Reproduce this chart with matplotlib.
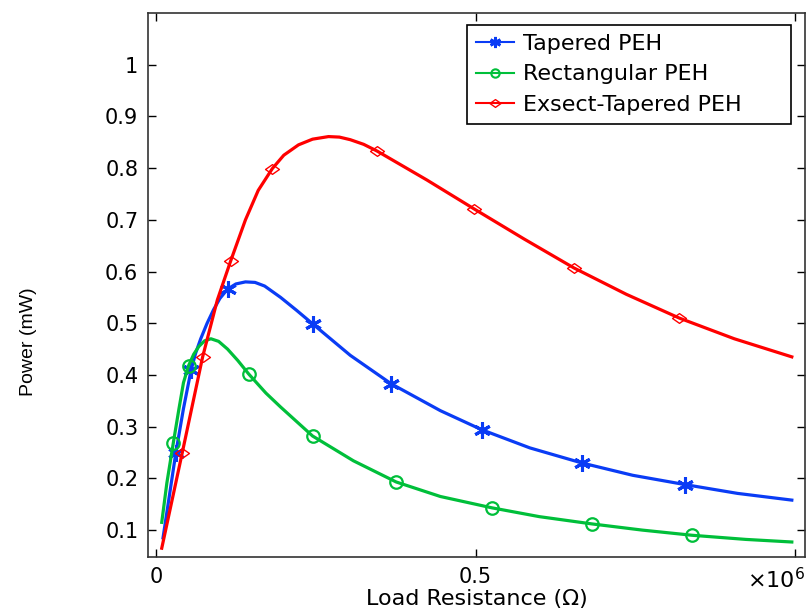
import matplotlib
matplotlib.use('Agg')
import matplotlib.pyplot as plt
from matplotlib.lines import Line2D
from matplotlib.path import Path

# Load resistance values are in units of 1e6 ohm, power in mW
tapered_x = [0.011, 0.031, 0.043, 0.055, 0.062, 0.070, 0.080, 0.090, 0.100, 0.112,
             0.125, 0.140, 0.155, 0.170, 0.195, 0.220, 0.245, 0.304, 0.368, 0.445,
             0.510, 0.585, 0.666, 0.746, 0.828, 0.910, 0.995]
tapered_y = [0.085, 0.249, 0.335, 0.410, 0.442, 0.470, 0.500, 0.526, 0.548, 0.566,
             0.576, 0.580, 0.579, 0.572, 0.550, 0.525, 0.499, 0.438, 0.383, 0.331,
             0.294, 0.259, 0.230, 0.206, 0.188, 0.171, 0.158]
tapered_marks = [1, 3, 9, 16, 18, 20, 22, 24]

rect_x = [0.009, 0.017, 0.027, 0.036, 0.043, 0.051, 0.059, 0.067, 0.076, 0.086, 0.098,
          0.112, 0.128, 0.145, 0.172, 0.195, 0.245, 0.309, 0.376, 0.445, 0.526, 0.600,
          0.682, 0.761, 0.839, 0.923, 0.995]
rect_y = [0.115, 0.191, 0.268, 0.335, 0.385, 0.418, 0.440, 0.455, 0.466, 0.470, 0.465,
          0.450, 0.428, 0.402, 0.365, 0.338, 0.282, 0.234, 0.193, 0.165, 0.143, 0.126,
          0.112, 0.100, 0.090, 0.082, 0.077]
rect_marks = [2, 5, 13, 16, 18, 20, 22, 24]

exsect_x = [0.009, 0.041, 0.073, 0.096, 0.117, 0.140, 0.160, 0.182, 0.200, 0.223, 0.245,
            0.270, 0.287, 0.304, 0.325, 0.346, 0.424, 0.498, 0.576, 0.654, 0.736, 0.819,
            0.905, 0.995]
exsect_y = [0.065, 0.249, 0.435, 0.545, 0.621, 0.700, 0.757, 0.799, 0.825, 0.845, 0.856,
            0.861, 0.860, 0.855, 0.846, 0.833, 0.777, 0.721, 0.663, 0.607, 0.556, 0.510,
            0.470, 0.435]
exsect_marks = [1, 2, 4, 7, 15, 17, 19, 21]

labels = ['Tapered PEH', 'Rectangular PEH', 'Exsect-Tapered PEH']
xticks = [0, 0.5, 1.0]
xticklabels = ['0', '0.5', '']
yticks = [0.1, 0.2, 0.3, 0.4, 0.5, 0.6, 0.7, 0.8, 0.9, 1.0]
yticklabels = ['0.1', '0.2', '0.3', '0.4', '0.5', '0.6', '0.7', '0.8', '0.9', '1']

blue = '#0a3cf5'
green = '#00bf3a'
red = '#ff0000'

# wide flat diamond like the original
diamond = Path([(-1, 0), (0, 0.7), (1, 0), (0, -0.7), (-1, 0)],
               [Path.MOVETO, Path.LINETO, Path.LINETO, Path.LINETO, Path.CLOSEPOLY])

fig = plt.figure(figsize=(8.07, 6.10), dpi=100)
ax = fig.add_axes([0.1834, 0.0869, 0.8141, 0.8918])

ax.plot(tapered_x, tapered_y, color=blue, lw=2.3, marker=(6, 2, 0), markersize=12,
        markeredgewidth=2.2, markevery=tapered_marks)
ax.plot(rect_x, rect_y, color=green, lw=2.3, marker='o', markersize=9,
        markerfacecolor='none', markeredgewidth=1.6, markevery=rect_marks)
ax.plot(exsect_x, exsect_y, color=red, lw=2.3, marker=diamond, markersize=10,
        markerfacecolor='none', markeredgewidth=1.0, markevery=exsect_marks)

ax.set_xlim(-0.0125, 1.0156)
ax.set_ylim(0.048, 1.10)
ax.set_xticks(xticks)
ax.set_xticklabels(xticklabels)
ax.set_yticks(yticks)
ax.set_yticklabels(yticklabels)
ax.tick_params(direction='in', length=6, width=1.0, top=True, right=True,
               labelsize=15, pad=7, colors='black')
for s in ax.spines.values():
    s.set_linewidth(1.2)
    s.set_color('#333333')

ax.text(1.0, -0.018, r'$\times10^{6}$', transform=ax.transAxes, ha='right', va='top',
        fontsize=16)

ax.set_xlabel('Load Resistance (\u03a9)', fontsize=16, labelpad=2)
ax.set_ylabel('Power (mW)', fontsize=14, family='Liberation Sans')
ax.yaxis.set_label_coords(-0.169, 0.395)

handles = [
    Line2D([], [], color=blue, lw=1.5, marker=(6, 2, 0), markersize=8, markeredgewidth=2),
    Line2D([], [], color=green, lw=1.5, marker='o', markersize=6,
           markerfacecolor='none', markeredgewidth=1.5),
    Line2D([], [], color=red, lw=1.5, marker=diamond, markersize=8,
           markerfacecolor='none', markeredgewidth=1.0),
]
leg = ax.legend(handles, labels, loc='upper left', mode='expand',
                bbox_to_anchor=(0.486, 0.80, 0.493, 0.178), borderaxespad=0,
                fontsize=16, handlelength=1.7, handletextpad=0.4, labelspacing=0.47,
                borderpad=0.4, fancybox=False, framealpha=1, edgecolor='black')
leg.get_frame().set_linewidth(1.2)

fig.savefig('out.png', dpi=100)
